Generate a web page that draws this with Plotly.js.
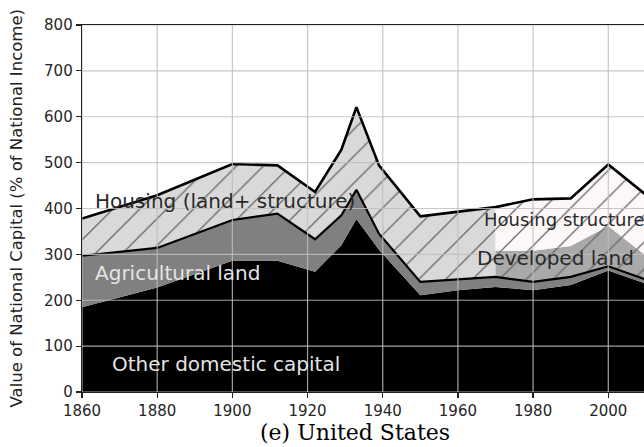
<!DOCTYPE html>
<html>
<head>
<meta charset="utf-8">
<script src="https://cdn.plot.ly/plotly-3.0.1.min.js"></script>
<style>
  html, body { margin: 0; padding: 0; background: #ffffff; }
  #chart { width: 644px; height: 447px; }
</style>
</head>
<body>
<div id="chart"></div>
<script>
// ---- Data (% of national income, stacked tops) ----
const years = [1860, 1880, 1900, 1912, 1922, 1929, 1933, 1939, 1950, 1960, 1970, 1980, 1990, 2000, 2010];
const otherDomesticTop = [185, 228, 286, 286, 262, 320, 377, 310, 211, 222, 229, 222, 233, 265, 236];
const agriculturalTop  = [297, 314, 375, 389, 333, 385, 441, 345, 240, 245, 251, 240, 251, 274, 245];
const totalCapital     = [378, 429, 497, 494, 436, 528, 621, 494, 383, 393, 403, 420, 422, 496, 430];
const splitYears   = [1970, 1980, 1990, 2000, 2010];
const developedTop = [308, 308, 318, 362, 297];

const xTicks = [1860, 1880, 1900, 1920, 1940, 1960, 1980, 2000];
const yTicks = [0, 100, 200, 300, 400, 500, 600, 700, 800];

const labelOther = 'Other domestic capital';
const labelAgri = 'Agricultural land';
const labelHousing = 'Housing (land+ structure)';
const labelStructures = 'Housing structures';
const labelDeveloped = 'Developed land';
const yTitle = 'Value of National Capital (% of National Income)';
const caption = '(e) United States';

// ---- helpers ----
function band(xs, top, bottom) {
  return {
    x: xs.concat(xs.slice().reverse()),
    y: top.concat(bottom.slice().reverse())
  };
}
function pick(arr, xsSub) {
  return xsSub.map(function (yr) { return arr[years.indexOf(yr)]; });
}
const earlyYears = years.filter(function (y) { return y <= 1970; });

const hatch = function (bg) {
  return { shape: '/', bgcolor: bg, fgcolor: '#6a6a6a', size: 19, solidity: 0.07 };
};

const traces = [];

// Other domestic capital (black)
traces.push({
  x: years, y: otherDomesticTop, type: 'scatter', mode: 'lines',
  fill: 'tozeroy', fillcolor: '#000000', line: { width: 0, color: '#000000' },
  hoverinfo: 'skip', showlegend: false
});

// Agricultural land
const agri = band(years, agriculturalTop, otherDomesticTop);
traces.push({
  x: agri.x, y: agri.y, type: 'scatter', mode: 'lines',
  fill: 'toself', fillcolor: '#808080', line: { width: 0, color: '#808080' },
  hoverinfo: 'skip', showlegend: false
});

// Housing (land + structure), up to 1970
const hous = band(earlyYears, pick(totalCapital, earlyYears), pick(agriculturalTop, earlyYears));
traces.push({
  x: hous.x, y: hous.y, type: 'scatter', mode: 'lines',
  fill: 'toself', fillcolor: '#d9d9d9', fillpattern: hatch('#d9d9d9'),
  line: { width: 0, color: '#d9d9d9' }, hoverinfo: 'skip', showlegend: false
});

// Developed land, from 1970
const dev = band(splitYears, developedTop, pick(agriculturalTop, splitYears));
traces.push({
  x: dev.x, y: dev.y, type: 'scatter', mode: 'lines',
  fill: 'toself', fillcolor: '#a9a9a9', fillpattern: hatch('#a9a9a9'),
  line: { width: 0, color: '#a9a9a9' }, hoverinfo: 'skip', showlegend: false
});

// Housing structures, from 1970
const str = band(splitYears, pick(totalCapital, splitYears), developedTop);
traces.push({
  x: str.x, y: str.y, type: 'scatter', mode: 'lines',
  fill: 'toself', fillcolor: '#fcf8f7', fillpattern: hatch('#fcf8f7'),
  line: { width: 0, color: '#fcf8f7' }, hoverinfo: 'skip', showlegend: false
});

// Outline lines
traces.push({
  x: years, y: agriculturalTop, type: 'scatter', mode: 'lines',
  line: { color: '#000000', width: 2.2 }, hoverinfo: 'skip', showlegend: false
});
traces.push({
  x: years, y: totalCapital, type: 'scatter', mode: 'lines',
  line: { color: '#000000', width: 2.6 }, hoverinfo: 'skip', showlegend: false
});

// Grid drawn above the filled areas (as in the reference)
const gridStyle = { color: 'rgba(190,190,190,0.85)', width: 1.2 };
const shapes = [];
xTicks.forEach(function (t) {
  shapes.push({ type: 'line', layer: 'above', xref: 'x', yref: 'paper', x0: t, x1: t, y0: 0, y1: 1, line: gridStyle });
});
yTicks.forEach(function (t) {
  shapes.push({ type: 'line', layer: 'above', xref: 'paper', yref: 'y', x0: 0, x1: 1, y0: t, y1: t, line: gridStyle });
});

const tickFont = { family: 'DejaVu Sans', size: 15, color: '#262626' };

const layout = {
  width: 644, height: 447,
  margin: { l: 82, r: 0, t: 25, b: 55, pad: 0 },
  paper_bgcolor: '#ffffff', plot_bgcolor: '#ffffff',
  showlegend: false,
  shapes: shapes,
  xaxis: {
    range: [1860, 2009.5], tickmode: 'array', tickvals: xTicks, ticktext: xTicks.map(String),
    showgrid: false, zeroline: false,
    showline: true, linecolor: '#222222', linewidth: 1.3, mirror: true,
    ticks: 'outside', ticklen: 5, tickwidth: 1.2, tickcolor: '#222222',
    tickfont: tickFont, layer: 'above traces', fixedrange: true
  },
  yaxis: {
    range: [0, 800], tickmode: 'array', tickvals: yTicks, ticktext: yTicks.map(String),
    showgrid: false, zeroline: false,
    showline: true, linecolor: '#222222', linewidth: 1.3, mirror: false,
    ticks: 'outside', ticklen: 5, tickwidth: 1.2, tickcolor: '#222222',
    tickfont: tickFont, layer: 'above traces', fixedrange: true
  },
  annotations: [
    { text: labelHousing, xref: 'x', yref: 'y', x: 1863, y: 416, xanchor: 'left', yanchor: 'middle',
      showarrow: false, font: { family: 'DejaVu Sans', size: 20, color: '#2a2a2a' } },
    { text: labelAgri, xref: 'x', yref: 'y', x: 1863, y: 259, xanchor: 'left', yanchor: 'middle',
      showarrow: false, font: { family: 'DejaVu Sans', size: 20, color: '#e4e4e4' } },
    { text: labelOther, xref: 'x', yref: 'y', x: 1867.5, y: 61, xanchor: 'left', yanchor: 'middle',
      showarrow: false, font: { family: 'DejaVu Sans', size: 20, color: '#e4e4e4' } },
    { text: labelStructures, xref: 'x', yref: 'y', x: 1966.5, y: 377, xanchor: 'left', yanchor: 'middle',
      showarrow: false, font: { family: 'DejaVu Sans', size: 18, color: '#2a2a2a' } },
    { text: labelDeveloped, xref: 'x', yref: 'y', x: 1964.6, y: 292, xanchor: 'left', yanchor: 'middle',
      showarrow: false, font: { family: 'DejaVu Sans', size: 20, color: '#2a2a2a' } },
    { text: yTitle, xref: 'paper', yref: 'paper', x: -0.1157, y: 0.5, xanchor: 'center', yanchor: 'middle',
      textangle: -90, showarrow: false, font: { family: 'DejaVu Sans', size: 16.5, color: '#222222' } },
    { text: caption, xref: 'paper', yref: 'paper', x: 0.486, y: -0.109, xanchor: 'center', yanchor: 'middle',
      showarrow: false, font: { family: 'DejaVu Serif', size: 22, color: '#000000' } }
  ]
};

Plotly.newPlot('chart', traces, layout, { staticPlot: true, displayModeBar: false });
</script>
</body>
</html>
